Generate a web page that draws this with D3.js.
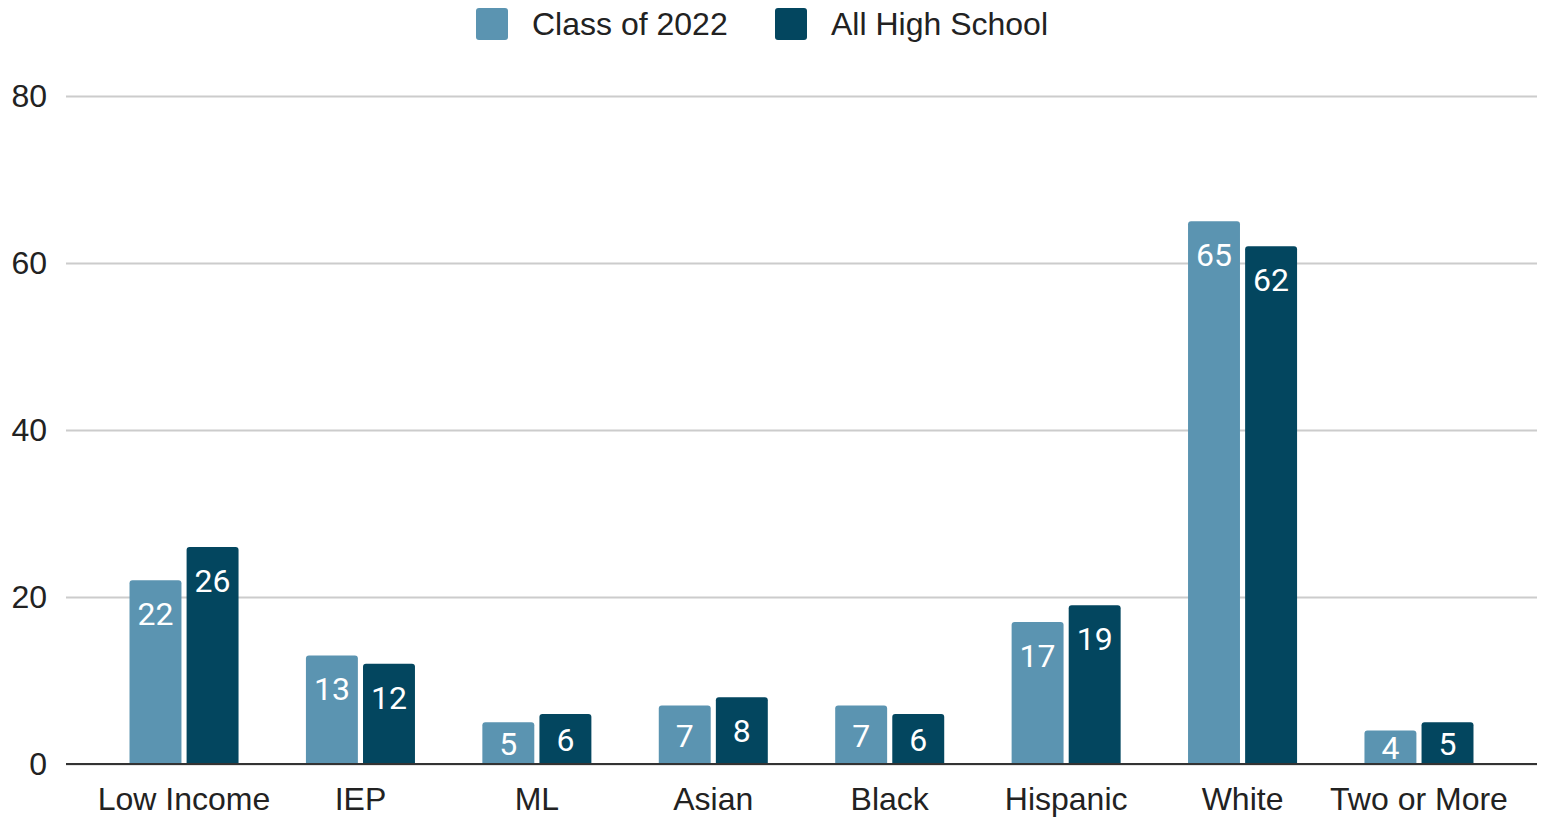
<!DOCTYPE html>
<html>
<head>
<meta charset="utf-8">
<script src="https://cdn.jsdelivr.net/npm/d3@7"></script>
<style>
  html, body { margin: 0; padding: 0; background: #fff; }
  svg { display: block; font-family: "Liberation Sans", Arial, sans-serif; }
</style>
</head>
<body>
<svg id="chart" width="1542" height="817"></svg>
<script>
// Student group share (%) by category
const categories = ["Low Income", "IEP", "ML", "Asian", "Black", "Hispanic", "White", "Two or More"];
const seriesNames = ["Class of 2022", "All High School"];
const classOf2022 = [22, 13, 5, 7, 7, 17, 65, 4];
const allHighSchool = [26, 12, 6, 8, 6, 19, 62, 5];
const yTicks = [0, 20, 40, 60, 80];
const colors = ["#5b94b1", "#03465f"];

const seriesValues = [classOf2022, allHighSchool];
const rows = categories.map((c, i) => ({
  category: c,
  values: seriesNames.map((s, j) => ({ series: s, idx: j, value: seriesValues[j][i] }))
}));

const svg = d3.select("#chart");
const margin = { left: 66, right: 5, top: 96, bottom: 53 };
const W = 1542, H = 817;
const labelFont = "'Liberation Sans', Arial, sans-serif";

const y = d3.scaleLinear().domain([0, 80]).range([H - margin.bottom, margin.top]);
const x0 = d3.scaleBand().domain(categories)
  .range([margin.left, W - margin.right])
  .paddingInner(0.382).paddingOuter(0.36);
const x1 = d3.scaleBand().domain(seriesNames)
  .range([0, x0.bandwidth()]).paddingInner(0.09);

// Gridlines and y tick labels
const yAxis = d3.axisLeft(y).tickValues(yTicks).tickSize(-(W - margin.right - margin.left)).tickPadding(19);
const gy = svg.append("g").attr("transform", `translate(${margin.left},0)`).call(yAxis);
gy.select(".domain").remove();
gy.selectAll(".tick line").attr("stroke", "#cccccc").attr("stroke-width", 2);
gy.selectAll(".tick text").attr("font-size", 32).attr("fill", "#222").attr("font-family", labelFont);

// Bars with rounded top corners
function barPath(x, yTop, w, yBase, r) {
  r = Math.min(r, (yBase - yTop), w / 2);
  return `M${x},${yBase}V${yTop + r}Q${x},${yTop} ${x + r},${yTop}H${x + w - r}Q${x + w},${yTop} ${x + w},${yTop + r}V${yBase}Z`;
}

const groups = svg.append("g").selectAll("g").data(rows).join("g")
  .attr("transform", d => `translate(${x0(d.category)},0)`);

groups.selectAll("path").data(d => d.values).join("path")
  .attr("fill", d => colors[d.idx])
  .attr("d", d => barPath(x1(d.series), y(d.value), x1.bandwidth(), y(0), 3));

// Value labels inside bar tops
groups.selectAll("text").data(d => d.values).join("text")
  .attr("x", d => x1(d.series) + x1.bandwidth() / 2)
  .attr("y", d => Math.min(y(d.value) + 34, (y(d.value) + y(0)) / 2 + 1))
  .attr("text-anchor", "middle")
  .attr("dominant-baseline", "central")
  .attr("fill", "#fff")
  .attr("font-family", "Roboto, sans-serif")
  .attr("font-size", 32)
  .text(d => d.value);

// Baseline and category labels
const xAxis = d3.axisBottom(x0).tickSize(0).tickPadding(23);
const gx = svg.append("g").attr("transform", `translate(0,${y(0)})`).call(xAxis);
gx.select(".domain").remove();
gx.selectAll(".tick text").attr("font-size", 32).attr("fill", "#222").attr("font-family", labelFont);
svg.append("line")
  .attr("x1", margin.left).attr("x2", W - margin.right)
  .attr("y1", y(0)).attr("y2", y(0))
  .attr("stroke", "#333").attr("stroke-width", 2);

// Legend
const legendItems = [
  { name: seriesNames[0], x: 476 },
  { name: seriesNames[1], x: 775 }
];
const lg = svg.append("g").selectAll("g").data(legendItems).join("g")
  .attr("transform", d => `translate(${d.x},8)`);
lg.append("rect").attr("width", 32).attr("height", 32).attr("rx", 3)
  .attr("fill", (d, i) => colors[i]);
lg.append("text").attr("x", 56).attr("y", 16)
  .attr("dominant-baseline", "central")
  .attr("font-size", 32).attr("fill", "#222").attr("font-family", labelFont)
  .text(d => d.name);
</script>
</body>
</html>
